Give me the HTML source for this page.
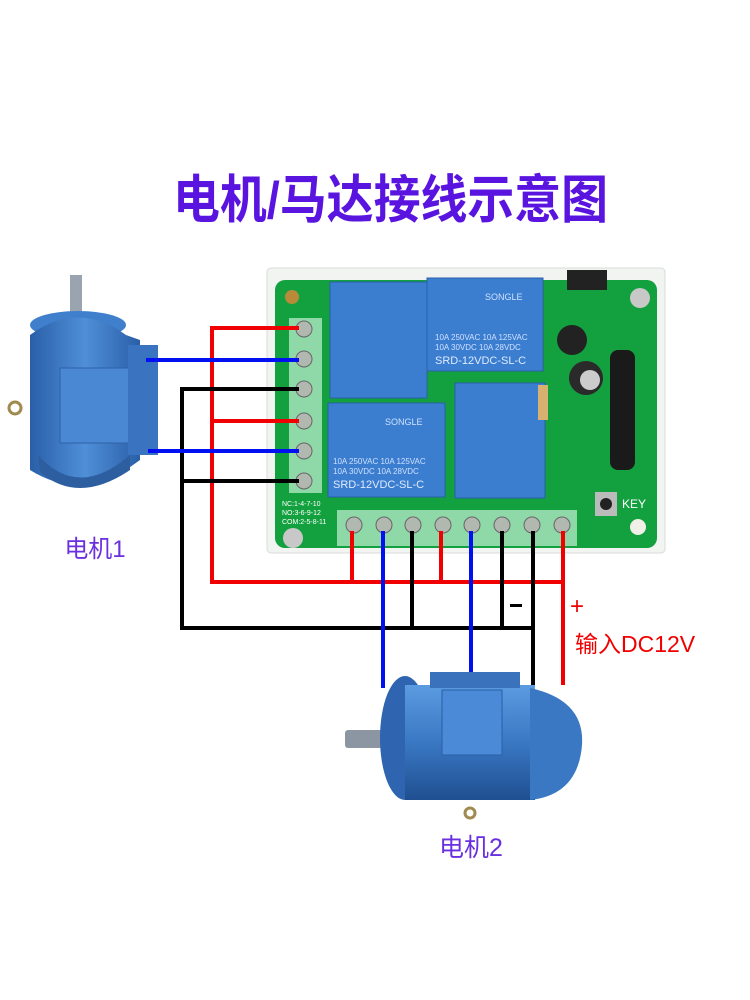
<!DOCTYPE html>
<html><head><meta charset="utf-8"><style>
html,body{margin:0;padding:0;background:#fff;width:750px;height:1000px;overflow:hidden}
svg{display:block}
</style></head><body>
<svg width="750" height="1000" viewBox="0 0 750 1000" xmlns="http://www.w3.org/2000/svg">
<defs>
<linearGradient id="mg" x1="0" y1="0" x2="0" y2="1"><stop offset="0" stop-color="#5b9be0"/><stop offset="0.5" stop-color="#3a78c4"/><stop offset="1" stop-color="#1f4f90"/></linearGradient>
<linearGradient id="mg2" x1="0" y1="0" x2="1" y2="0"><stop offset="0" stop-color="#2a5fa8"/><stop offset="0.5" stop-color="#4f8fd8"/><stop offset="1" stop-color="#2a5fa8"/></linearGradient>
</defs>
<text x="173" y="218" textLength="435" lengthAdjust="spacingAndGlyphs" font-family="'Liberation Sans','Noto Sans CJK SC',sans-serif" font-weight="bold" font-size="52" fill="#5a14e0">电机/马达接线示意图</text>

<!-- Motor 1 -->
<rect x="70" y="275" width="12" height="50" fill="#9aa4b0"/>
<ellipse cx="78" cy="325" rx="48" ry="14" fill="#3f7fcc"/>
<path d="M30 335 Q78 300 126 335 L140 340 L140 460 L126 470 Q78 500 30 470 Z" fill="url(#mg2)"/>
<rect x="60" y="368" width="70" height="75" fill="#4a88d4" stroke="#2d62a8"/>
<rect x="128" y="345" width="30" height="110" fill="#3a74c0"/>
<path d="M38 455 Q78 500 130 455 L130 470 Q78 505 40 472 Z" fill="#2d5e9f"/>
<circle cx="15" cy="408" r="6" fill="none" stroke="#a08a50" stroke-width="3"/>
<text x="95" y="557" text-anchor="middle" font-family="'Liberation Sans','Noto Sans CJK SC',sans-serif" font-size="24" fill="#6a30e0">电机1</text>

<!-- Board -->
<rect x="267" y="268" width="398" height="285" rx="4" fill="#f2f4f2" stroke="#d8dcd8"/>
<rect x="275" y="280" width="382" height="268" rx="10" fill="#13a03e"/>
<circle cx="292" cy="297" r="7" fill="#b88a3a"/>
<circle cx="640" cy="298" r="10" fill="#c8c8c8"/>
<circle cx="293" cy="538" r="10" fill="#c8c8c8"/>
<circle cx="638" cy="527" r="8" fill="#f0f0e8"/>
<rect x="289" y="318" width="33" height="175" fill="#8fd8a8"/>
<g fill="#b0b8b0" stroke="#666" stroke-width="1">
<circle cx="304" cy="329" r="8"/><circle cx="304" cy="359" r="8"/><circle cx="304" cy="389" r="8"/>
<circle cx="304" cy="421" r="8"/><circle cx="304" cy="451" r="8"/><circle cx="304" cy="481" r="8"/>
</g>
<rect x="337" y="510" width="240" height="36" fill="#8fd8a8"/>
<g fill="#b0b8b0" stroke="#666" stroke-width="1">
<circle cx="354" cy="525" r="8"/><circle cx="384" cy="525" r="8"/><circle cx="413" cy="525" r="8"/><circle cx="443" cy="525" r="8"/>
<circle cx="472" cy="525" r="8"/><circle cx="502" cy="525" r="8"/><circle cx="532" cy="525" r="8"/><circle cx="562" cy="525" r="8"/>
</g>
<text x="282" y="506" font-family="'Liberation Sans',sans-serif" font-size="7" fill="#fff">NC:1-4-7-10</text>
<text x="282" y="515" font-family="'Liberation Sans',sans-serif" font-size="7" fill="#fff">NO:3-6-9-12</text>
<text x="282" y="524" font-family="'Liberation Sans',sans-serif" font-size="7" fill="#fff">COM:2-5-8-11</text>
<g font-family="'Liberation Sans',sans-serif">
<rect x="330" y="282" width="97" height="116" fill="#3b7ed0" stroke="#2a60a8"/>
<rect x="427" y="278" width="116" height="93" fill="#3b7ed0" stroke="#2a60a8"/>
<rect x="328" y="403" width="117" height="94" fill="#3b7ed0" stroke="#2a60a8"/>
<rect x="455" y="383" width="90" height="115" fill="#3b7ed0" stroke="#2a60a8"/>
<text x="485" y="300" font-size="9" fill="#cfe0ff">SONGLE</text>
<text x="435" y="340" font-size="8" fill="#cfe0ff">10A 250VAC 10A 125VAC</text>
<text x="435" y="350" font-size="8" fill="#cfe0ff">10A 30VDC 10A 28VDC</text>
<text x="435" y="364" font-size="11" fill="#dfeaff">SRD-12VDC-SL-C</text>
<text x="385" y="425" font-size="9" fill="#cfe0ff">SONGLE</text>
<text x="333" y="464" font-size="8" fill="#cfe0ff">10A 250VAC 10A 125VAC</text>
<text x="333" y="474" font-size="8" fill="#cfe0ff">10A 30VDC 10A 28VDC</text>
<text x="333" y="488" font-size="11" fill="#dfeaff">SRD-12VDC-SL-C</text>
</g>
<circle cx="572" cy="340" r="15" fill="#222"/>
<circle cx="586" cy="378" r="17" fill="#2a2a2a"/><circle cx="590" cy="380" r="10" fill="#ccc"/>
<rect x="610" y="350" width="25" height="120" rx="8" fill="#1a1a1a"/>
<rect x="567" y="270" width="40" height="20" fill="#222"/>
<rect x="538" y="385" width="10" height="35" fill="#d8b070"/>
<rect x="595" y="492" width="22" height="24" fill="#bbb"/><circle cx="606" cy="504" r="6" fill="#222"/>
<text x="622" y="508" font-family="'Liberation Sans',sans-serif" font-size="12" fill="#fff">KEY</text>

<g fill="none" stroke-width="4" stroke-linecap="square">
<path d="M297 328 H212 V582 H563" stroke="#f00000"/>
<path d="M212 421 H297" stroke="#f00000"/>
<path d="M352 533 V582 M441 533 V582" stroke="#f00000"/>
<path d="M563 533 V683" stroke="#f00000"/>
<path d="M297 389 H182 V628 H533" stroke="#000"/>
<path d="M182 481 H297" stroke="#000"/>
<path d="M412 533 V628 M502 533 V628 M533 533 V686" stroke="#000"/>
<path d="M148 360 H297 M150 451 H297" stroke="#0010f0"/>
<path d="M383 533 V686 M471 533 V686" stroke="#0010f0"/>
</g>
<rect x="510" y="604" width="12" height="3" fill="#000"/>
<text x="570" y="614" font-family="'Liberation Sans',sans-serif" font-size="24" fill="#f00000">+</text>
<text x="575" y="652" font-family="'Liberation Sans','Noto Sans CJK SC',sans-serif" font-size="23" fill="#f00000">输入DC12V</text>

<rect x="345" y="730" width="50" height="18" rx="3" fill="#8c96a2"/>
<ellipse cx="405" cy="738" rx="25" ry="62" fill="#2e64b0"/>
<rect x="405" y="685" width="130" height="115" fill="url(#mg)"/>
<path d="M530 688 Q585 700 582 745 Q578 795 530 800 Z" fill="#3a78c4"/>
<rect x="442" y="690" width="60" height="65" fill="#4a8ad6" stroke="#2a5ea8"/>
<rect x="430" y="672" width="90" height="16" fill="#3a72bc"/>
<circle cx="470" cy="813" r="5" fill="none" stroke="#a08a50" stroke-width="3"/>
<text x="471" y="856" text-anchor="middle" font-family="'Liberation Sans','Noto Sans CJK SC',sans-serif" font-size="25" fill="#6a30e0">电机2</text>
</svg>
</body></html>
